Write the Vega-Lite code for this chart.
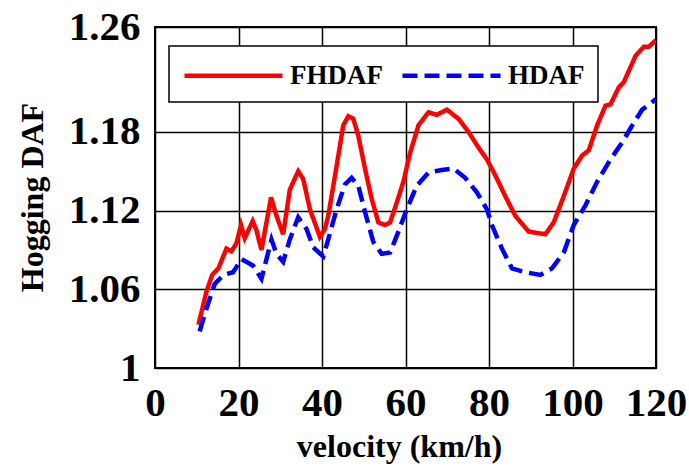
{
  "$schema": "https://vega.github.io/schema/vega-lite/v6.json",
  "autosize": {"type": "none"},
  "padding": {"left": 155, "top": 27, "right": 33, "bottom": 102},
  "width": 501,
  "height": 341,
  "background": "white",
  "config": {
    "view": {"stroke": "black", "strokeWidth": 2},
    "font": "Liberation Serif"
  },
  "data": {
    "values": [
      {"v": 10.4, "d": 1.033, "s": "FHDAF"},
      {"v": 12.3, "d": 1.058, "s": "FHDAF"},
      {"v": 13.7, "d": 1.071, "s": "FHDAF"},
      {"v": 15.2, "d": 1.076, "s": "FHDAF"},
      {"v": 17.1, "d": 1.091, "s": "FHDAF"},
      {"v": 18.3, "d": 1.089, "s": "FHDAF"},
      {"v": 19.5, "d": 1.095, "s": "FHDAF"},
      {"v": 20.6, "d": 1.109, "s": "FHDAF"},
      {"v": 21.5, "d": 1.099, "s": "FHDAF"},
      {"v": 23.4, "d": 1.112, "s": "FHDAF"},
      {"v": 24.3, "d": 1.105, "s": "FHDAF"},
      {"v": 25.5, "d": 1.090, "s": "FHDAF"},
      {"v": 27.8, "d": 1.130, "s": "FHDAF"},
      {"v": 29.1, "d": 1.116, "s": "FHDAF"},
      {"v": 30.7, "d": 1.102, "s": "FHDAF"},
      {"v": 32.3, "d": 1.136, "s": "FHDAF"},
      {"v": 34.3, "d": 1.150, "s": "FHDAF"},
      {"v": 35.5, "d": 1.144, "s": "FHDAF"},
      {"v": 37.1, "d": 1.121, "s": "FHDAF"},
      {"v": 39.5, "d": 1.100, "s": "FHDAF"},
      {"v": 40.7, "d": 1.106, "s": "FHDAF"},
      {"v": 41.5, "d": 1.116, "s": "FHDAF"},
      {"v": 43.5, "d": 1.154, "s": "FHDAF"},
      {"v": 45.1, "d": 1.185, "s": "FHDAF"},
      {"v": 46.3, "d": 1.192, "s": "FHDAF"},
      {"v": 47.5, "d": 1.190, "s": "FHDAF"},
      {"v": 48.7, "d": 1.177, "s": "FHDAF"},
      {"v": 50.3, "d": 1.152, "s": "FHDAF"},
      {"v": 51.9, "d": 1.129, "s": "FHDAF"},
      {"v": 53.5, "d": 1.111, "s": "FHDAF"},
      {"v": 55.1, "d": 1.109, "s": "FHDAF"},
      {"v": 56.3, "d": 1.111, "s": "FHDAF"},
      {"v": 57.9, "d": 1.126, "s": "FHDAF"},
      {"v": 59.5, "d": 1.142, "s": "FHDAF"},
      {"v": 61.1, "d": 1.164, "s": "FHDAF"},
      {"v": 63.1, "d": 1.185, "s": "FHDAF"},
      {"v": 65.5, "d": 1.195, "s": "FHDAF"},
      {"v": 67.5, "d": 1.193, "s": "FHDAF"},
      {"v": 69.9, "d": 1.197, "s": "FHDAF"},
      {"v": 72.7, "d": 1.190, "s": "FHDAF"},
      {"v": 75.1, "d": 1.180, "s": "FHDAF"},
      {"v": 77.5, "d": 1.168, "s": "FHDAF"},
      {"v": 79.5, "d": 1.159, "s": "FHDAF"},
      {"v": 81.5, "d": 1.147, "s": "FHDAF"},
      {"v": 83.9, "d": 1.131, "s": "FHDAF"},
      {"v": 86.3, "d": 1.116, "s": "FHDAF"},
      {"v": 89.5, "d": 1.104, "s": "FHDAF"},
      {"v": 93.5, "d": 1.102, "s": "FHDAF"},
      {"v": 95.5, "d": 1.111, "s": "FHDAF"},
      {"v": 97.9, "d": 1.131, "s": "FHDAF"},
      {"v": 100.3, "d": 1.152, "s": "FHDAF"},
      {"v": 102.3, "d": 1.162, "s": "FHDAF"},
      {"v": 103.9, "d": 1.166, "s": "FHDAF"},
      {"v": 105.9, "d": 1.185, "s": "FHDAF"},
      {"v": 107.9, "d": 1.200, "s": "FHDAF"},
      {"v": 109.1, "d": 1.201, "s": "FHDAF"},
      {"v": 111.1, "d": 1.214, "s": "FHDAF"},
      {"v": 112.3, "d": 1.218, "s": "FHDAF"},
      {"v": 115.1, "d": 1.238, "s": "FHDAF"},
      {"v": 117.1, "d": 1.245, "s": "FHDAF"},
      {"v": 118.3, "d": 1.245, "s": "FHDAF"},
      {"v": 120, "d": 1.250, "s": "FHDAF"},
      {"v": 10.7, "d": 1.028, "s": "HDAF"},
      {"v": 12.3, "d": 1.045, "s": "HDAF"},
      {"v": 14.3, "d": 1.064, "s": "HDAF"},
      {"v": 16.4, "d": 1.071, "s": "HDAF"},
      {"v": 18.7, "d": 1.073, "s": "HDAF"},
      {"v": 20.7, "d": 1.083, "s": "HDAF"},
      {"v": 22.4, "d": 1.080, "s": "HDAF"},
      {"v": 23.5, "d": 1.078, "s": "HDAF"},
      {"v": 25.5, "d": 1.068, "s": "HDAF"},
      {"v": 27.9, "d": 1.098, "s": "HDAF"},
      {"v": 29.1, "d": 1.087, "s": "HDAF"},
      {"v": 30.7, "d": 1.081, "s": "HDAF"},
      {"v": 32.3, "d": 1.098, "s": "HDAF"},
      {"v": 34.3, "d": 1.115, "s": "HDAF"},
      {"v": 36.3, "d": 1.106, "s": "HDAF"},
      {"v": 37.9, "d": 1.092, "s": "HDAF"},
      {"v": 40.3, "d": 1.085, "s": "HDAF"},
      {"v": 41.5, "d": 1.098, "s": "HDAF"},
      {"v": 43.5, "d": 1.121, "s": "HDAF"},
      {"v": 45.5, "d": 1.140, "s": "HDAF"},
      {"v": 47.1, "d": 1.145, "s": "HDAF"},
      {"v": 48.7, "d": 1.139, "s": "HDAF"},
      {"v": 50.3, "d": 1.119, "s": "HDAF"},
      {"v": 52.3, "d": 1.096, "s": "HDAF"},
      {"v": 54.3, "d": 1.087, "s": "HDAF"},
      {"v": 56.3, "d": 1.088, "s": "HDAF"},
      {"v": 58.3, "d": 1.104, "s": "HDAF"},
      {"v": 60.3, "d": 1.121, "s": "HDAF"},
      {"v": 62.7, "d": 1.139, "s": "HDAF"},
      {"v": 65.5, "d": 1.149, "s": "HDAF"},
      {"v": 68.7, "d": 1.151, "s": "HDAF"},
      {"v": 71.5, "d": 1.152, "s": "HDAF"},
      {"v": 74.3, "d": 1.145, "s": "HDAF"},
      {"v": 77.1, "d": 1.134, "s": "HDAF"},
      {"v": 79.5, "d": 1.121, "s": "HDAF"},
      {"v": 80.7, "d": 1.109, "s": "HDAF"},
      {"v": 83.1, "d": 1.091, "s": "HDAF"},
      {"v": 85.5, "d": 1.076, "s": "HDAF"},
      {"v": 88.7, "d": 1.073, "s": "HDAF"},
      {"v": 92.3, "d": 1.071, "s": "HDAF"},
      {"v": 95.1, "d": 1.076, "s": "HDAF"},
      {"v": 97.9, "d": 1.088, "s": "HDAF"},
      {"v": 100.3, "d": 1.109, "s": "HDAF"},
      {"v": 103.1, "d": 1.124, "s": "HDAF"},
      {"v": 105.9, "d": 1.142, "s": "HDAF"},
      {"v": 109.1, "d": 1.159, "s": "HDAF"},
      {"v": 111.9, "d": 1.172, "s": "HDAF"},
      {"v": 114.3, "d": 1.185, "s": "HDAF"},
      {"v": 116.7, "d": 1.197, "s": "HDAF"},
      {"v": 120, "d": 1.205, "s": "HDAF"}
    ]
  },
  "mark": {"type": "line", "strokeWidth": 4.5, "clip": true},
  "encoding": {
    "x": {
      "field": "v",
      "type": "quantitative",
      "scale": {"domain": [0, 120], "nice": false},
      "axis": {
        "values": [0, 20, 40, 60, 80, 100, 120],
        "title": "velocity (km/h)",
        "grid": true,
        "gridColor": "black",
        "gridWidth": 1.5,
        "gridOpacity": 1,
        "domain": false,
        "ticks": false,
        "labelFont": "Liberation Serif",
        "labelFontWeight": "bold",
        "labelFontSize": 41,
        "labelColor": "black",
        "labelPadding": 15,
        "labelFlush": false,
        "titleFont": "Liberation Serif",
        "titleFontWeight": "bold",
        "titleFontSize": 32,
        "titleColor": "black",
        "titleX": 244,
        "titleY": 88,
        "titleAlign": "center",
        "titleBaseline": "alphabetic"
      }
    },
    "y": {
      "field": "d",
      "type": "quantitative",
      "scale": {"domain": [1, 1.26], "nice": false, "zero": false},
      "axis": {
        "values": [1, 1.06, 1.12, 1.18, 1.26],
        "format": "~g",
        "title": "Hogging DAF",
        "grid": true,
        "gridColor": "black",
        "gridWidth": 1.5,
        "gridOpacity": 1,
        "domain": false,
        "ticks": false,
        "labelFont": "Liberation Serif",
        "labelFontWeight": "bold",
        "labelFontSize": 41,
        "labelColor": "black",
        "labelPadding": 15,
        "labelFlush": false,
        "titleFont": "Liberation Serif",
        "titleFontWeight": "bold",
        "titleFontSize": 32,
        "titleColor": "black",
        "titleAngle": -90,
        "titleX": -113,
        "titleY": 170,
        "titleAlign": "center",
        "titleBaseline": "alphabetic"
      }
    },
    "color": {
      "field": "s",
      "type": "nominal",
      "scale": {"domain": ["FHDAF", "HDAF"], "range": ["#ff0000", "#0000ff"]},
      "legend": {
        "title": null,
        "orient": "none",
        "legendX": 14,
        "legendY": 19,
        "direction": "horizontal",
        "fillColor": "white",
        "strokeColor": "black",
        "padding": 13,
        "symbolType": "M-1,0H6",
        "symbolSize": 784,
        "symbolStrokeWidth": 4.5,
        "labelFont": "Liberation Serif",
        "labelFontWeight": "bold",
        "labelFontSize": 27,
        "labelColor": "black",
        "labelOffset": 75,
        "columnPadding": 10,
        "labelLimit": 300,
        "encode": {"legend": {"update": {"strokeWidth": {"value": 1.5}}}}
      }
    },
    "strokeDash": {
      "field": "s",
      "type": "nominal",
      "scale": {"domain": ["FHDAF", "HDAF"], "range": [[1, 0], [15, 7]]},
      "legend": null
    }
  }
}
